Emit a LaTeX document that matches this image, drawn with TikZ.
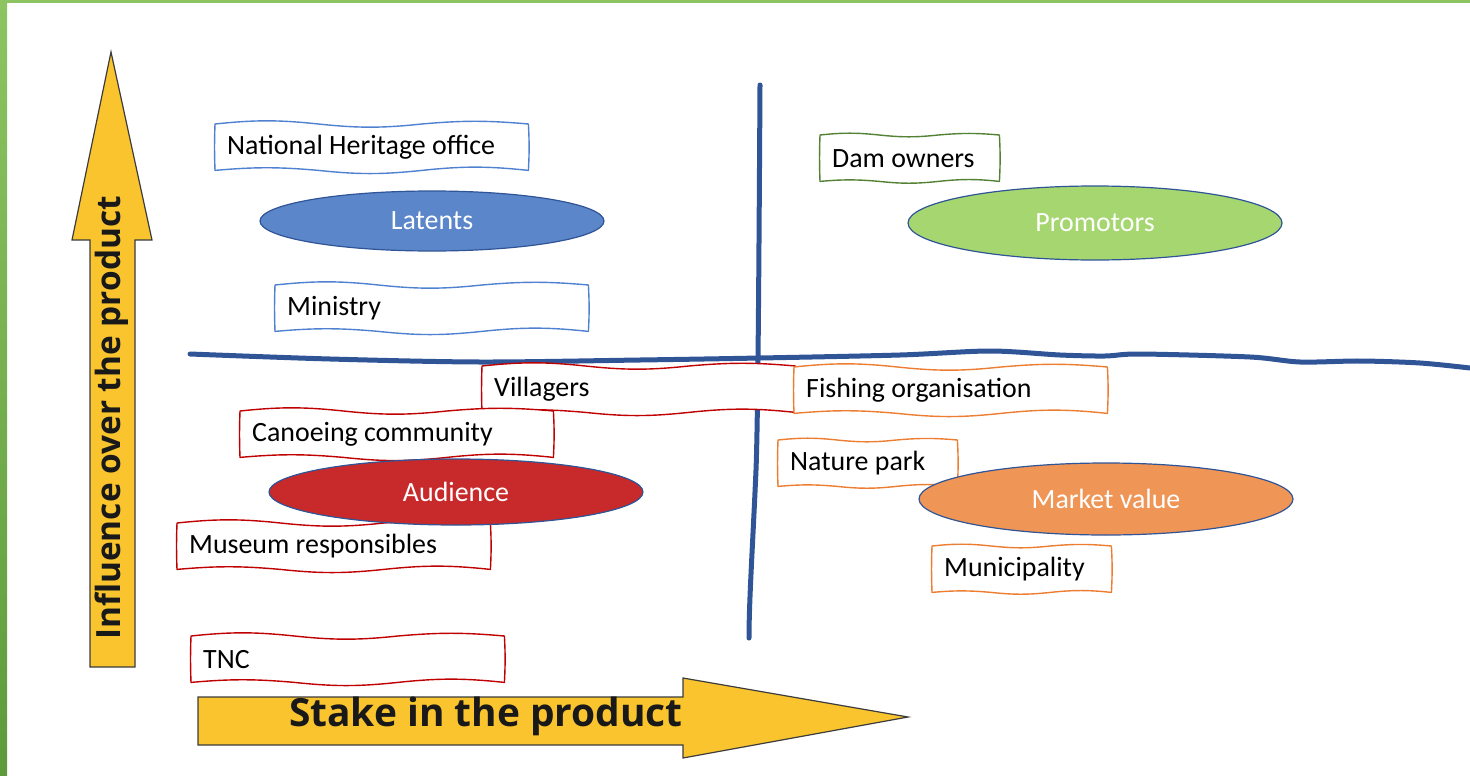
\documentclass[tikz,border=0pt]{standalone}
\usepackage{fontspec}
\setmainfont{Carlito}
\newfontfamily\axisfont{Open Sans}
\usepackage{xcolor}
\usetikzlibrary{positioning,shapes.geometric,calc}

\definecolor{framegreen}{HTML}{8CC461}
\definecolor{framedark}{HTML}{5E9A3C}
\definecolor{arrowyellow}{HTML}{F9C42E}
\definecolor{arrowrim}{HTML}{3C3C3C}
\definecolor{lineblue}{HTML}{2F5597}
\definecolor{latentblue}{HTML}{5B86C9}
\definecolor{promogreen}{HTML}{A5D66F}
\definecolor{audiencered}{HTML}{C8292A}
\definecolor{marketorange}{HTML}{EF9556}
\definecolor{boxblue}{HTML}{4F81D0}
\definecolor{boxgreen}{HTML}{548235}
\definecolor{boxred}{HTML}{C00000}
\definecolor{boxorange}{HTML}{ED7D31}

\tikzset{
  axisarrow/.style={fill=arrowyellow, draw=arrowrim, line width=1.2bp},
  axislabel/.style={font=\axisfont\bfseries\fontsize{#1}{#1}\selectfont, text=black!90},
  quadline/.style={draw=lineblue, line width=5bp, line cap=round},
  group/.style={ellipse, draw=lineblue, line width=1.2bp, fill=#1, text=white,
    font=\fontsize{28}{32}\selectfont},
  % hand drawn box: wavy white outline drawn under the node text
  actor/.style={align=flush left, inner xsep=12bp, minimum height=46bp,
    anchor=north west, font=\fontsize{28}{32}\selectfont, text=black,
    append after command={\pgfextra{\let\actnode\tikzlastnode
      \filldraw[fill=white, draw=#1, line width=1.4bp, line join=round]
      (\actnode.north west)
      to[bend left=6] ($(\actnode.north west)!0.33!(\actnode.north east)$)
      to[bend right=6] ($(\actnode.north west)!0.66!(\actnode.north east)$)
      to[bend left=5] (\actnode.north east)
      to[bend left=3] (\actnode.south east)
      to[bend right=6] ($(\actnode.south west)!0.66!(\actnode.south east)$)
      to[bend left=6] ($(\actnode.south west)!0.33!(\actnode.south east)$)
      to[bend right=5] (\actnode.south west)
      to[bend left=2] (\actnode.north west) -- cycle;}}},
  widebox/.style={text width=289bp},
  narrowbox/.style={text width=155bp},
}

\begin{document}
\begin{tikzpicture}[x=1bp,y=-1bp]
\useasboundingbox (0,0) rectangle (1470,775);

% frame
\fill[framegreen] (0,0) rectangle (1470,3);
\shade[top color=framegreen, bottom color=framedark] (0,0) rectangle (7,775);

% axes
\draw[axisarrow] (90,667) -- (90,240) -- (72,240) -- (111,52) -- (152,240)
  -- (135,240) -- (135,667) -- cycle;
\draw[axisarrow] (198,697) -- (683,697) -- (683,678) -- (908,717) -- (683,758)
  -- (683,745) -- (198,745) -- cycle;
\node[axislabel=33.5, rotate=90] (influence) at (112,418) {Influence over the product};
\node[axislabel=39] (stake) at (486,716) {Stake in the product};

% quadrants
\draw[quadline] (760,85) .. controls (759,250) and (758,420) .. (756,470)
  .. controls (753,540) and (749,600) .. (749,638);
\draw[quadline] plot[smooth] coordinates {(190,354) (330,359) (480,362) (640,360)
  (760,358) (900,355) (990,351) (1060,355) (1105,356) (1140,354) (1250,357)
  (1300,362) (1360,361) (1420,363) (1470,368)};

% stakeholders
\node[actor=boxblue, widebox] (heritage) at (215,124) {National Heritage office};
\node[actor=boxblue, widebox] (ministry) at (275,285) {Ministry};
\node[actor=boxgreen, narrowbox] (dam) at (820,135) {Dam owners};
\node[actor=boxred, widebox] (villagers) at (482,366) {Villagers};
\node[actor=boxred, widebox] (canoe) at (240,411) {Canoeing community};
\node[actor=boxred, widebox] (museum) at (177,523) {Museum responsibles};
\node[actor=boxred, widebox] (tnc) at (191,636) {TNC};
\node[actor=boxorange, widebox] (fishing) at (794,367) {Fishing organisation};
\node[actor=boxorange, narrowbox] (naturepark) at (778,440) {Nature park};
\node[actor=boxorange, narrowbox] (municipality) at (932,546) {Municipality};

% groups
\node[group=latentblue, minimum width=344bp, minimum height=60bp] (latents) at (432,221) {Latents};
\node[group=promogreen, minimum width=374bp, minimum height=74bp] (promotors) at (1095,223) {Promotors};
\node[group=audiencered, minimum width=374bp, minimum height=66bp] (audience) at (456,492) {Audience};
\node[group=marketorange, minimum width=374bp, minimum height=72bp] (market) at (1106,499) {Market value};
\end{tikzpicture}
\end{document}
